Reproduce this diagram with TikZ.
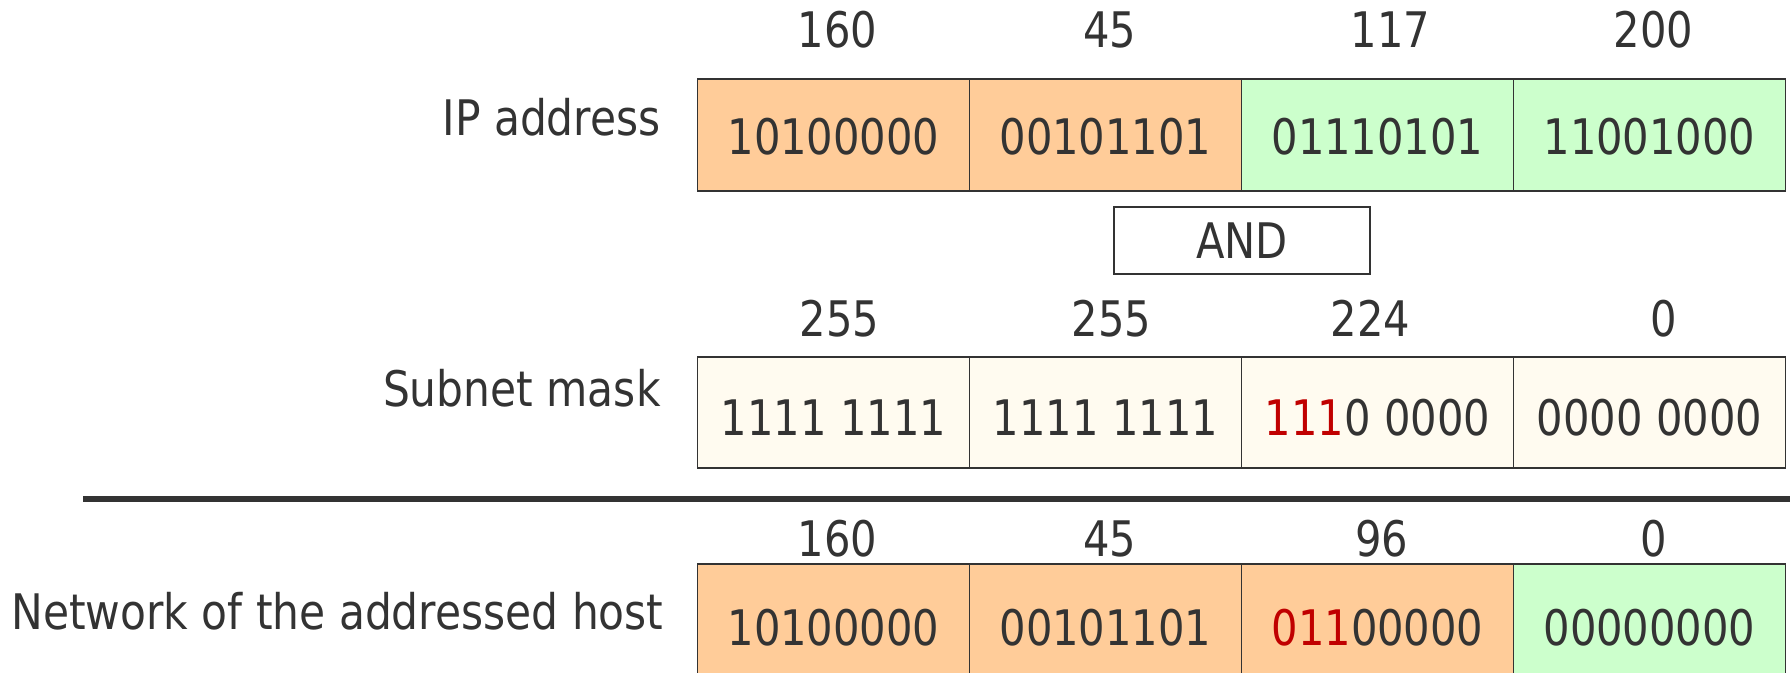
\documentclass[tikz,border=0pt]{standalone}
\usepackage{fontspec}
\setmainfont{DejaVu Sans}[FakeStretch=0.85]
\newfontfamily\labelfont{DejaVu Sans}[FakeStretch=0.865]
\usepackage{xcolor}
\usepackage{tikz}

\definecolor{ink}{HTML}{333333}
\definecolor{hostorange}{HTML}{FFCC99}
\definecolor{netgreen}{HTML}{CCFFCC}
\definecolor{maskcream}{HTML}{FFFBF0}
\definecolor{bitred}{HTML}{C00000}

\tikzset{
  cell/.style={draw=ink, line width=0.9pt, minimum width=136pt, minimum height=56pt,
               inner sep=0pt, outer sep=0pt, text=ink, text depth=0pt},
  octet/.style={anchor=base, text=ink, inner sep=0pt},
  rowlabel/.style={anchor=base east, text=ink, inner sep=0pt,
                   font=\labelfont\fontsize{24.5}{29}\selectfont},
}

\begin{document}
\begin{tikzpicture}[x=0.5pt, y=-0.5pt, font=\fontsize{24.5}{29}\selectfont]
\useasboundingbox (0,0) rectangle (1790,673);
\clip (0,0) rectangle (1790,673);

% IP address
\node[rowlabel] (iplabel) at (661,136) {IP address};
\foreach \i/\c/\v/\n/\dx in {1/hostorange/10100000/160/4, 2/hostorange/00101101/45/4,
                             3/netgreen/01110101/117/13, 4/netgreen/11001000/200/4}{
    \node[cell, fill=\c, text height=20pt] (ip\i) at ({697.5+272*(\i-0.5)},135) {\v};
    \node[octet] (ipdec\i) at ({697.5+272*(\i-0.5)+\dx},48) {\n};
}

% AND
\node[draw=ink, line width=0.9pt, fill=white, minimum width=128pt, minimum height=33.6pt,
      inner sep=0pt, text=ink] (andop) at (1242,240.5) {AND};

% subnet mask
\node[rowlabel] (masklabel) at (661,407) {Subnet mask};
\foreach \i/\v/\n/\dx in {1/{1111 1111}/255/6, 2/{1111 1111}/255/6,
                          3/{\textcolor{bitred}{111}0 0000}/224/-7, 4/{0000 0000}/0/14}{
    \node[cell, fill=maskcream, minimum height=55.5pt, text height=22.9pt] (mask\i) at ({697.5+272*(\i-0.5)},412.5) {\v};
    \node[octet] (maskdec\i) at ({697.5+272*(\i-0.5)+\dx},337) {\n};
}

% result line
\coordinate (ruleL) at (83,499);
\coordinate (ruleR) at (1790,499);
\draw[ink, line width=3pt] (ruleL) -- (ruleR);

% network of the host
\node[rowlabel] (netlabel) at (664,630) {Network of the addressed host};
\foreach \i/\c/\v/\n/\dx in {1/hostorange/10100000/160/4, 2/hostorange/00101101/45/4,
                             3/hostorange/{\textcolor{bitred}{011}00000}/96/4, 4/netgreen/00000000/0/4}{
    \node[cell, fill=\c, minimum height=63pt, text height=18.5pt] (net\i) at ({697.5+272*(\i-0.5)},627) {\v};
    \node[octet] (netdec\i) at ({697.5+272*(\i-0.5)+\dx},557) {\n};
}
\end{tikzpicture}
\end{document}
